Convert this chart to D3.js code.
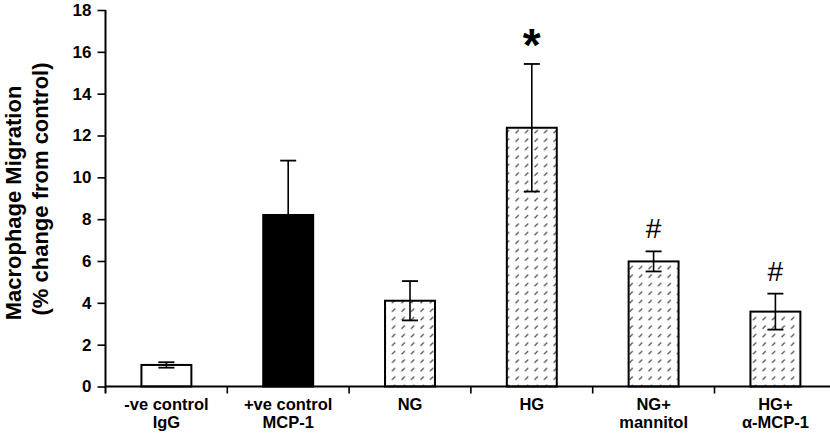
<!DOCTYPE html>
<html><head><meta charset="utf-8">
<script src="https://cdn.jsdelivr.net/npm/d3@7"></script>
<style>
html,body{margin:0;padding:0;background:#fff;}
svg{display:block;font-family:"Liberation Sans",Arial,sans-serif;}
</style></head>
<body><svg id="chart" width="830" height="437"></svg>
<script>
const categories = [["-ve control","IgG"],["+ve control","MCP-1"],["NG",""],["HG",""],["NG+","mannitol"],["HG+","α-MCP-1"]];
const values = [1.03, 8.2, 4.1, 12.37, 5.98, 3.58];
const errors = [0.13, 2.6, 0.94, 3.05, 0.48, 0.86];
const fills = ["white","black","hatch","hatch","hatch","hatch"];
const annotations = ["", "", "", "*", "#", "#"];
const yTicks = [0,2,4,6,8,10,12,14,16,18];

const svg = d3.select("#chart");
const x0 = 105.5, y0 = 386.5, yTop = 10;
const x = d3.scaleBand().domain(d3.range(categories.length)).range([x0, x0 + 6*121.8]).paddingInner(0.59).paddingOuter(0.295);
const y = d3.scaleLinear().domain([0,18]).range([y0, yTop]);

const defs = svg.append("defs");
const pat = defs.append("pattern").attr("id","hatch").attr("patternUnits","userSpaceOnUse")
  .attr("width",9.5).attr("height",8.5);
pat.append("rect").attr("width",9.5).attr("height",8.5).attr("fill","white");
pat.append("line").attr("x1",2.5).attr("y1",5.8).attr("x2",5.8).attr("y2",2.5).attr("stroke","#222").attr("stroke-width",1.1);

// bars
svg.selectAll("rect.bar").data(values).enter().append("rect")
  .attr("class","bar")
  .attr("x",(d,i)=>x(i)).attr("width",x.bandwidth())
  .attr("y",d=>y(d)).attr("height",d=>y0-y(d))
  .attr("fill",(d,i)=>fills[i]==="hatch"?"url(#hatch)":fills[i])
  .attr("stroke","black").attr("stroke-width",2);

// error bars
const eb = svg.selectAll("g.err").data(values).enter().append("g").attr("class","err");
eb.append("line").attr("x1",(d,i)=>x(i)+x.bandwidth()/2).attr("x2",(d,i)=>x(i)+x.bandwidth()/2)
  .attr("y1",(d,i)=>y(d-errors[i])).attr("y2",(d,i)=>y(d+errors[i]))
  .attr("stroke","black").attr("stroke-width",1.6);
[1,-1].forEach(s=>{
  eb.append("line").attr("x1",(d,i)=>x(i)+x.bandwidth()/2-8).attr("x2",(d,i)=>x(i)+x.bandwidth()/2+8)
    .attr("y1",(d,i)=>y(d+s*errors[i])).attr("y2",(d,i)=>y(d+s*errors[i]))
    .attr("stroke","black").attr("stroke-width",1.8);
});

// annotations
svg.selectAll("text.ann").data(values).enter().append("text")
  .attr("class","ann")
  .attr("x",(d,i)=>x(i)+x.bandwidth()/2)
  .attr("y",(d,i)=>annotations[i]==="*" ? y(d+errors[i]) - 3 : y(d+errors[i]) - 13)
  .attr("text-anchor","middle")
  .attr("font-size",(d,i)=>annotations[i]==="*"?46:28)
  .attr("font-weight",(d,i)=>annotations[i]==="*"?"bold":"normal")
  .text((d,i)=>annotations[i]);

// y axis
const yAxis = svg.append("g").attr("transform",`translate(${x0},0)`)
  .call(d3.axisLeft(y).tickValues(yTicks).tickSize(8).tickPadding(6).tickSizeOuter(0));
yAxis.select(".domain").attr("stroke-width",2).attr("d",`M0,${yTop}V${y0+7}`);
yAxis.selectAll(".tick line").attr("stroke-width",1.6);
yAxis.selectAll(".tick text").attr("font-size",17).attr("font-weight","bold").attr("font-family","Liberation Sans, Arial, sans-serif").attr("fill","black");

// x axis
const xg = svg.append("g");
xg.append("line").attr("x1",x0).attr("x2",830).attr("y1",y0).attr("y2",y0).attr("stroke","black").attr("stroke-width",2);
xg.selectAll("line.xt").data(d3.range(1,categories.length)).enter().append("line")
  .attr("x1",i=>x(i)-x.step()*x.paddingInner()/2).attr("x2",i=>x(i)-x.step()*x.paddingInner()/2)
  .attr("y1",y0).attr("y2",y0+7).attr("stroke","black").attr("stroke-width",1.6);
const lab = xg.selectAll("text.cat").data(categories).enter().append("text")
  .attr("class","cat").attr("text-anchor","middle").attr("font-size",16.5).attr("font-weight","bold");
lab.append("tspan").attr("x",(d,i)=>x(i)+x.bandwidth()/2).attr("y",409.5).text(d=>d[0]);
lab.append("tspan").attr("x",(d,i)=>x(i)+x.bandwidth()/2).attr("y",428).text(d=>d[1]);

// y title
svg.append("text").attr("transform","translate(21,203) rotate(-90)").attr("text-anchor","middle")
  .attr("font-size",22).attr("font-weight","bold").text("Macrophage Migration");
svg.append("text").attr("transform","translate(48,189) rotate(-90)").attr("text-anchor","middle")
  .attr("font-size",22).attr("font-weight","bold").text("(% change from control)");
</script></body></html>
